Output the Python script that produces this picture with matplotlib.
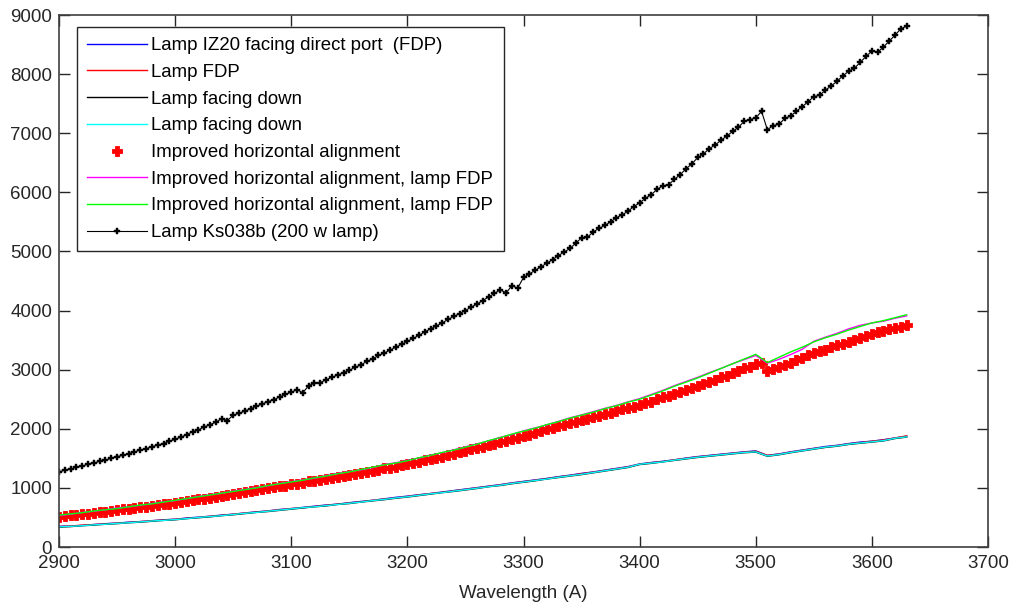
import numpy as np
import matplotlib
matplotlib.use("Agg")
import matplotlib.pyplot as plt

plt.rcParams['font.family'] = ['Liberation Sans', 'DejaVu Sans']

# Wavelength grids (Angstrom)
wl10 = np.arange(2900, 3631, 10)
wl5 = np.arange(2900, 3631, 5)

blue_iz20 = [
    350, 355, 365, 380, 395,
    405, 420, 430, 445, 460,
    470, 490, 505, 520, 540,
    555, 575, 595, 610, 635,
    650, 670, 690, 710, 725,
    750, 770, 790, 815, 840,
    860, 885, 905, 930, 955,
    980, 1005, 1030, 1055, 1085,
    1110, 1135, 1160, 1190, 1215,
    1245, 1270, 1300, 1330, 1360,
    1405, 1430, 1450, 1475, 1505,
    1530, 1550, 1570, 1590, 1610,
    1625, 1550, 1575, 1610, 1640,
    1670, 1700, 1720, 1750, 1775,
    1790, 1815, 1845, 1875]

red_fdp = [
    345, 355, 370, 380, 390,
    405, 415, 430, 445, 455,
    470, 485, 500, 520, 535,
    555, 575, 590, 610, 630,
    650, 665, 685, 705, 725,
    745, 765, 790, 810, 830,
    855, 880, 905, 925, 950,
    975, 1000, 1025, 1050, 1080,
    1105, 1130, 1155, 1185, 1210,
    1240, 1265, 1295, 1325, 1355,
    1400, 1425, 1445, 1475, 1500,
    1525, 1545, 1565, 1585, 1605,
    1620, 1550, 1570, 1605, 1635,
    1665, 1690, 1715, 1745, 1765,
    1790, 1810, 1845, 1880]

black_down = [
    335, 345, 360, 370, 385,
    395, 410, 420, 435, 450,
    460, 480, 495, 510, 530,
    545, 565, 585, 600, 620,
    640, 660, 680, 695, 720,
    735, 760, 780, 800, 825,
    845, 870, 895, 920, 940,
    965, 990, 1020, 1040, 1070,
    1095, 1120, 1150, 1175, 1200,
    1225, 1255, 1285, 1315, 1345,
    1395, 1415, 1440, 1465, 1490,
    1515, 1535, 1555, 1575, 1595,
    1605, 1535, 1560, 1595, 1625,
    1655, 1685, 1705, 1735, 1755,
    1775, 1795, 1835, 1860]

cyan_down = [
    340, 350, 360, 375, 385,
    400, 410, 425, 440, 450,
    465, 480, 500, 515, 530,
    550, 570, 585, 605, 625,
    645, 665, 680, 700, 720,
    740, 760, 785, 805, 830,
    850, 875, 900, 920, 945,
    970, 995, 1020, 1045, 1075,
    1100, 1125, 1150, 1180, 1205,
    1230, 1260, 1290, 1320, 1350,
    1400, 1420, 1440, 1470, 1495,
    1520, 1540, 1560, 1580, 1600,
    1610, 1540, 1565, 1600, 1630,
    1660, 1690, 1710, 1740, 1760,
    1780, 1800, 1840, 1865]

red_dots_improved = [
    510, 520, 535, 540, 555, 565, 575, 590, 600, 610,
    620, 635, 645, 660, 670, 685, 700, 710, 725, 735,
    750, 760, 780, 790, 810, 820, 835, 850, 870, 880,
    900, 910, 930, 945, 960, 980, 990, 1010, 1030, 1040,
    1060, 1070, 1090, 1110, 1120, 1140, 1150, 1170, 1190, 1200,
    1220, 1240, 1250, 1270, 1290, 1310, 1330, 1340, 1360, 1380,
    1400, 1420, 1440, 1470, 1490, 1510, 1530, 1550, 1580, 1600,
    1620, 1650, 1670, 1700, 1720, 1750, 1780, 1800, 1830, 1850,
    1880, 1900, 1930, 1960, 1990, 2010, 2040, 2070, 2100, 2120,
    2150, 2170, 2200, 2220, 2250, 2270, 2300, 2330, 2350, 2370,
    2400, 2430, 2460, 2500, 2530, 2560, 2590, 2620, 2660, 2690,
    2720, 2760, 2790, 2830, 2870, 2900, 2940, 2980, 3020, 3050,
    3090, 3110, 2970, 3010, 3040, 3080, 3120, 3160, 3200, 3240,
    3280, 3310, 3340, 3380, 3410, 3440, 3470, 3500, 3540, 3570,
    3600, 3630, 3650, 3680, 3700, 3730, 3760]

magenta_improved_fdp = [
    530, 555, 585, 605, 630,
    660, 680, 705, 735, 765,
    785, 820, 855, 885, 910,
    945, 975, 1005, 1035, 1075,
    1105, 1135, 1165, 1205, 1245,
    1275, 1305, 1345, 1395, 1425,
    1465, 1505, 1555, 1595, 1645,
    1695, 1745, 1795, 1855, 1905,
    1965, 2015, 2065, 2125, 2185,
    2235, 2290, 2345, 2395, 2455,
    2510, 2580, 2650, 2730, 2800,
    2870, 2950, 3020, 3100, 3170,
    3240, 3110, 3175, 3255, 3345,
    3480, 3550, 3615, 3690, 3750,
    3790, 3820, 3870, 3910]

green_improved_fdp = [
    540, 560, 580, 610, 630,
    650, 680, 710, 730, 760,
    790, 820, 850, 880, 910,
    940, 970, 1000, 1040, 1070,
    1100, 1130, 1170, 1200, 1240,
    1270, 1310, 1350, 1390, 1420,
    1460, 1510, 1550, 1600, 1640,
    1690, 1740, 1800, 1850, 1910,
    1960, 2010, 2070, 2120, 2180,
    2230, 2280, 2340, 2390, 2450,
    2500, 2570, 2640, 2720, 2790,
    2860, 2940, 3020, 3100, 3180,
    3260, 3120, 3210, 3300, 3380,
    3470, 3540, 3600, 3670, 3730,
    3790, 3830, 3880, 3930]

black_ks038b = [
    1270, 1300, 1320, 1350, 1370, 1400, 1420, 1450, 1470, 1500,
    1530, 1550, 1580, 1610, 1640, 1660, 1700, 1720, 1750, 1790,
    1820, 1860, 1900, 1950, 1980, 2030, 2070, 2110, 2170, 2140,
    2230, 2260, 2300, 2340, 2380, 2420, 2460, 2490, 2540, 2580,
    2620, 2660, 2610, 2730, 2770, 2780, 2830, 2870, 2910, 2950,
    2990, 3040, 3080, 3140, 3180, 3240, 3280, 3330, 3380, 3430,
    3480, 3530, 3580, 3640, 3690, 3740, 3790, 3850, 3900, 3950,
    4000, 4060, 4110, 4170, 4230, 4290, 4350, 4300, 4420, 4380,
    4560, 4620, 4680, 4740, 4800, 4860, 4930, 4990, 5050, 5140,
    5230, 5240, 5330, 5390, 5440, 5500, 5570, 5620, 5680, 5760,
    5820, 5900, 5960, 6050, 6110, 6130, 6220, 6300, 6400, 6480,
    6590, 6650, 6740, 6800, 6880, 6950, 7030, 7100, 7200, 7230,
    7260, 7370, 7060, 7130, 7150, 7250, 7290, 7370, 7450, 7530,
    7620, 7640, 7730, 7800, 7880, 7970, 8050, 8100, 8200, 8300,
    8390, 8370, 8460, 8560, 8660, 8770, 8810]

labels = [
    "Lamp IZ20 facing direct port  (FDP)",
    "Lamp FDP",
    "Lamp facing down",
    "Lamp facing down",
    "Improved horizontal alignment",
    "Improved horizontal alignment, lamp FDP",
    "Improved horizontal alignment, lamp FDP",
    "Lamp Ks038b (200 w lamp)",
]

x_ticks = list(range(2900, 3701, 100))
y_ticks = list(range(0, 9001, 1000))

fig = plt.figure(figsize=(10.10, 6.02), dpi=100)
ax = fig.add_axes([59/1010, 1 - 547/602, 929/1010, 532/602])

lw = 1.0
ax.plot(wl10, blue_iz20, color='#0000ff', lw=lw, label=labels[0])
ax.plot(wl10, red_fdp, color='#ff0000', lw=lw, label=labels[1])
ax.plot(wl10, black_down, color='#000000', lw=lw, label=labels[2])
ax.plot(wl10, cyan_down, color='#00ffff', lw=lw, label=labels[3])
ax.plot(wl5, red_dots_improved, linestyle='none', marker='P', ms=6.5,
        color='#ff0000', mec='#ff0000', mew=0.6, label=labels[4])
ax.plot(wl10, magenta_improved_fdp, color='#ff00ff', lw=lw, label=labels[5])
ax.plot(wl10, green_improved_fdp, color='#00ff00', lw=lw, label=labels[6])
ax.plot(wl5, black_ks038b, color='#000000', lw=0.8, marker='P', ms=5,
        mew=0.3, label=labels[7])

ax.set_xlim(2900, 3700)
ax.set_ylim(0, 9000)
ax.set_xticks(x_ticks)
ax.set_yticks(y_ticks)
ax.tick_params(direction='in', length=8, width=1, top=True, right=True,
               labelsize=13.5, colors='#262626')
ax.tick_params(axis='y', pad=5)
ax.tick_params(axis='x', pad=6)
for s in ax.spines.values():
    s.set_color('#404040')
    s.set_linewidth(1.2)

ax.set_xlabel("Wavelength (A)", fontsize=13.5, color='#262626', labelpad=9)

leg = ax.legend(loc='upper left', bbox_to_anchor=(18/929, 1 - 12/532),
                borderaxespad=0, fancybox=False, framealpha=1,
                edgecolor='#262626', fontsize=13.4, handlelength=3.2,
                handletextpad=0.25, labelspacing=0.52, borderpad=0.55,
                numpoints=1)
leg.get_frame().set_linewidth(1.0)

fig.savefig("out.png", dpi=100)
